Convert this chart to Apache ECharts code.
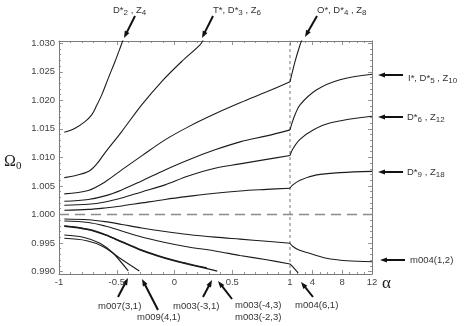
<!DOCTYPE html>
<html><head><meta charset="utf-8">
<script src="https://cdn.jsdelivr.net/npm/echarts@6/dist/echarts.min.js"></script>
<style>html,body{margin:0;padding:0;background:#fff}#c{width:469px;height:326px}</style>
</head><body><div id="c"></div>
<script>
// ---------- tick labels ----------
const yTickValues = [0.990, 0.995, 1.000, 1.005, 1.010, 1.015, 1.020, 1.025, 1.030];
const xTickAlphas = [-1, -0.5, 0, 0.5, 1, 4, 8, 12];
const xMinorAlphas = [-0.9,-0.8,-0.7,-0.6,-0.4,-0.3,-0.2,-0.1,0.1,0.2,0.3,0.4,0.6,0.7,0.8,0.9,2,3,5,6,7,9,10,11];

// ---------- series (alpha, Omega0) ----------
const c1A = [-0.954, -0.861, -0.775, -0.717, -0.674, -0.630, -0.573, -0.515, -0.463, -0.445];
const c1V = [1.01442, 1.01512, 1.01628, 1.01746, 1.01909, 1.02096, 1.02389, 1.02681, 1.02961, 1.0306];

const c2A = [-0.954, -0.853, -0.746, -0.680, -0.602, -0.457, -0.284, -0.111, 0.062, 0.221, 0.25];
const c2V = [1.00646, 1.00684, 1.00751, 1.00868, 1.01079, 1.01453, 1.01921, 1.0233, 1.02681, 1.02974, 1.0306];

const leftA = [-0.954, -0.746, -0.602, -0.457, -0.284, -0.082, 0.119, 0.351, 0.567, 0.798, 1.0];
const c3V = [1.0036, 1.00421, 1.0057, 1.00781, 1.01026, 1.01307, 1.01535, 1.01763, 1.01956, 1.02149, 1.02324];
const c4V = [1.00232, 1.00263, 1.00325, 1.0043, 1.00588, 1.00781, 1.00956, 1.01132, 1.01272, 1.01377, 1.01482];
const c5V = [1.00161, 1.00179, 1.00219, 1.00289, 1.00395, 1.00518, 1.00675, 1.00811, 1.00886, 1.00965, 1.01032];
const c6V = [1.00074, 1.00088, 1.00114, 1.00149, 1.00202, 1.00263, 1.00316, 1.00372, 1.00412, 1.00439, 1.0046];
const l1V = [0.99921, 0.99907, 0.99874, 0.99825, 0.99763, 0.99702, 0.99649, 0.99602, 0.99567, 0.9953, 0.99495];
const l2V = [0.99886, 0.9986, 0.99798, 0.99711, 0.99605, 0.99509, 0.9943, 0.9936, 0.99281, 0.99205, 0.99132];

const c3RA = [1, 1.23, 1.67, 2.34, 2.6];
const c3RV = [1.02324, 1.0245, 1.0268, 1.0297, 1.0306];
const c4RA = [1, 1.23, 1.67, 2.34, 4.58, 7.71, 12];
const c4RV = [1.01482, 1.01588, 1.01746, 1.01921, 1.02184, 1.0236, 1.02456];
const c5RA = [1, 1.3, 2.3, 4.1, 6.6, 12];
const c5RV = [1.01032, 1.0113, 1.0131, 1.0148, 1.0161, 1.0172];
const c6RA = [1, 1.3, 2.34, 4.58, 7.71, 12];
const c6RV = [1.0046, 1.0051, 1.006, 1.00693, 1.00733, 1.00755];
const l1RA = [1, 1.4, 2.2, 3.25, 5.9, 8.6, 12];
const l1RV = [0.99495, 0.99438, 0.99375, 0.99333, 0.99232, 0.99189, 0.99172];
const l2RA = [1, 1.5, 2.1];
const l2RV = [0.99132, 0.99065, 0.98975];

const l3A = [-0.954, -0.75, -0.6, -0.45, -0.3, -0.15, 0, 0.15, 0.3, 0.37];
const l3V = [0.99793, 0.99735, 0.9964, 0.9951, 0.9938, 0.99275, 0.99185, 0.9911, 0.9904, 0.99008];
const l3bA = [-0.954, -0.75, -0.6, -0.45, -0.3, -0.15, 0, 0.15, 0.28];
const l3bV = [0.99799, 0.99742, 0.99648, 0.99518, 0.99389, 0.99284, 0.99194, 0.9912, 0.99062];
const l4A = [-0.954, -0.79, -0.645, -0.53, -0.4];
const l4V = [0.9964, 0.996, 0.99495, 0.9932, 0.9901];
const l5A = [-0.954, -0.76, -0.616, -0.472, -0.305];
const l5V = [0.99582, 0.9954, 0.99435, 0.99232, 0.9901];

// ---------- axis mapping (piecewise: linear on [-1,1], compressed on [1,12]) ----------
const K = 0.06454;
const T = a => a <= 1 ? a : 1 + (a - 1) * K;
const Tinv = t => t <= 1.0001 ? t : 1 + (t - 1) / K;
const XMIN = -1, XMAX = T(12);
const YMIN = 0.98956, YMAX = 1.0304;

const yMinor = [];
for (let i = 991; i <= 1029; i++) { if (i % 5 !== 0) yMinor.push(i / 1000); }

const FONT = '"Liberation Sans", Arial, sans-serif';
const frameColor = '#7a7a7a';
const curveColor = '#1c1c1c';

function fmtX(v) {
  const a = Math.round(Tinv(v) * 10) / 10;
  return String(a);
}

function xAx(pos, ticks, major, labels) {
  return {
    type: 'value', position: pos, min: XMIN, max: XMAX,
    axisLine: { show: major, onZero: false, lineStyle: { color: frameColor, width: 1 } },
    splitLine: { show: false },
    axisTick: { show: true, inside: true, length: major ? 4 : 2, customValues: ticks, lineStyle: { color: frameColor, width: 0.8 } },
    axisLabel: labels ? { show: true, customValues: ticks, formatter: fmtX, margin: 3, fontSize: 9.5, color: '#444', fontFamily: FONT } : { show: false }
  };
}
function yAx(pos, ticks, major, labels) {
  return {
    type: 'value', position: pos, min: YMIN, max: YMAX,
    axisLine: { show: major, onZero: false, lineStyle: { color: frameColor, width: 1 } },
    splitLine: { show: false },
    axisTick: { show: true, inside: true, length: major ? 4 : 2, customValues: ticks, lineStyle: { color: frameColor, width: 0.8 } },
    axisLabel: labels ? { show: true, customValues: ticks, formatter: v => v.toFixed(3), margin: 4, fontSize: 9.5, color: '#444', fontFamily: FONT } : { show: false }
  };
}

const xMajorPos = xTickAlphas.map(T);
const xMinorPos = xMinorAlphas.map(T);

function curve(A, V, w) {
  return {
    type: 'line', xAxisIndex: 0, yAxisIndex: 0, showSymbol: false, symbol: 'none',
    smooth: 0.35, silent: true, animation: false, clip: true,
    lineStyle: { color: curveColor, width: w || 1.1 },
    data: A.map((a, i) => [T(a), V[i]])
  };
}

const series = [
  { type: 'line', xAxisIndex: 0, yAxisIndex: 0, symbol: 'none', silent: true, animation: false,
    lineStyle: { color: '#8c8c8c', width: 1.6, type: [10, 6] }, data: [[XMIN, 1.0], [XMAX, 1.0]] },
  { type: 'line', xAxisIndex: 0, yAxisIndex: 0, symbol: 'none', silent: true, animation: false,
    lineStyle: { color: '#555', width: 0.8, type: [3, 3] }, data: [[1, YMIN], [1, YMAX]] },
  curve(c1A, c1V), curve(c2A, c2V),
  curve(leftA, c3V), curve(leftA, c4V), curve(leftA, c5V), curve(leftA, c6V),
  curve(leftA, l1V), curve(leftA, l2V),
  curve(c3RA, c3RV), curve(c4RA, c4RV), curve(c5RA, c5RV), curve(c6RA, c6RV),
  curve(l1RA, l1RV), curve(l2RA, l2RV),
  curve(l3A, l3V, 1.3), curve(l3bA, l3bV, 1.3), curve(l4A, l4V), curve(l5A, l5V)
];

// ---------- annotations ----------
const rich = {
  b: { fontSize: 8, lineHeight: 8, verticalAlign: 'bottom', fontFamily: FONT, fill: '#333' }
};
function label(x, y, text) {
  return { type: 'text', x: x, y: y, silent: true,
    style: { text: text, rich: rich, font: '9.5px ' + FONT, fill: '#333', verticalAlign: 'middle', lineHeight: 14 } };
}
function arrow(x1, y1, x2, y2) {
  const dx = x2 - x1, dy = y2 - y1, L = Math.hypot(dx, dy);
  const ux = dx / L, uy = dy / L, px = -uy, py = ux;
  const hl = 7, hw = 2.6;
  const bx = x2 - ux * hl, by = y2 - uy * hl;
  return [
    { type: 'line', silent: true, shape: { x1: x1, y1: y1, x2: bx + ux, y2: by + uy }, style: { stroke: '#111', lineWidth: 2 } },
    { type: 'polygon', silent: true, shape: { points: [[x2, y2], [bx + px * hw, by + py * hw], [bx - px * hw, by - py * hw]] }, style: { fill: '#111' } }
  ];
}

const graphics = [
  label(113, 10, 'D*{b|2} , Z{b|4}'),
  label(213, 10, 'T*, D*{b|3} , Z{b|6}'),
  label(317, 10, 'O*, D*{b|4} , Z{b|8}'),
  label(408, 78, 'I*, D*{b|5} , Z{b|10}'),
  label(407, 117, 'D*{b|6} , Z{b|12}'),
  label(407, 172, 'D*{b|9} , Z{b|18}'),
  label(410, 260, 'm004(1,2)'),
  label(98, 306, 'm007(3,1)'),
  label(137, 317, 'm009(4,1)'),
  label(173, 306, 'm003(-3,1)'),
  label(235, 305, 'm003(-4,3)'),
  label(235, 317, 'm003(-2,3)'),
  label(295, 305, 'm004(6,1)'),
  { type: 'text', x: 4, y: 162, silent: true,
    style: { text: 'Ω{s|0}', rich: { s: { fontSize: 11, lineHeight: 11, verticalAlign: 'bottom', fontFamily: '"Liberation Serif", serif', fill: '#222' } },
      font: '16px "Liberation Serif", serif', fill: '#222', verticalAlign: 'middle', lineHeight: 20 } },
  { type: 'text', x: 382, y: 284, silent: true,
    style: { text: 'α', font: '17px "Liberation Serif", serif', fill: '#222', verticalAlign: 'middle' } }
]
  .concat(arrow(135, 16, 124, 38))
  .concat(arrow(213, 16, 202, 38))
  .concat(arrow(317, 16, 305, 37))
  .concat(arrow(403, 75, 378, 75))
  .concat(arrow(403, 117, 378, 117))
  .concat(arrow(403, 172, 378, 172))
  .concat(arrow(405, 260, 380, 260))
  .concat(arrow(118, 297, 128, 278))
  .concat(arrow(158, 310, 142, 279))
  .concat(arrow(203, 297, 212, 280))
  .concat(arrow(232, 299, 218, 281))
  .concat(arrow(313, 297, 301, 282));

const chart = echarts.init(document.getElementById('c'), null, { renderer: 'canvas' });
chart.setOption({
  animation: false,
  backgroundColor: '#fff',
  grid: { left: 59, right: 97, top: 41, bottom: 52, containLabel: false },
  xAxis: [
    xAx('bottom', xMajorPos, true, true),
    xAx('bottom', xMinorPos, false, false),
    xAx('top', xMajorPos, true, false),
    xAx('top', xMinorPos, false, false)
  ],
  yAxis: [
    yAx('left', yTickValues, true, true),
    yAx('left', yMinor, false, false),
    yAx('right', yTickValues, true, false),
    yAx('right', yMinor, false, false)
  ],
  series: series,
  graphic: graphics
});
</script>
</body></html>
